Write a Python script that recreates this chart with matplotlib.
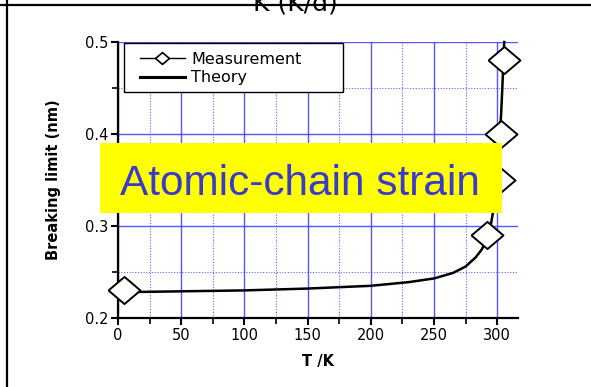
import matplotlib
matplotlib.use("Agg")
import matplotlib.pyplot as plt
from matplotlib.lines import Line2D
from matplotlib.patches import Rectangle
from matplotlib.ticker import MultipleLocator

# measured breaking limit vs temperature
meas_T = [5, 292, 301, 303, 305]
meas_L = [0.23, 0.29, 0.35, 0.40, 0.48]

# theory curve, read point by point
theory_T = [0, 50, 100, 150, 200, 230, 250, 265, 275, 283, 288, 292, 295,
            297, 299, 300.5, 301.5, 303, 304, 305.5]
theory_L = [0.228, 0.229, 0.230, 0.232, 0.235, 0.239, 0.243, 0.249, 0.256,
            0.266, 0.275, 0.288, 0.302, 0.318, 0.345, 0.370, 0.390, 0.420,
            0.450, 0.500]

xticks = [0, 50, 100, 150, 200, 250, 300]
yticks = [0.2, 0.3, 0.4, 0.5]

grid_blue = "#3a3aff"
diamond = [(-1, 0), (0, 0.85), (1, 0), (0, -0.85), (-1, 0)]

W, H = 591, 387
fig = plt.figure(figsize=(W/100, H/100), dpi=100)
ax = fig.add_axes([118/W, 1-318/H, 400/W, 276/H])

ax.plot(theory_T, theory_L, color="k", lw=1.8, zorder=3, clip_on=False)
ax.plot(meas_T, meas_L, linestyle="none", marker=diamond, ms=23,
        mfc="white", mec="k", mew=1.4, zorder=4, clip_on=False)

ax.set_xlim(0, 316.4)
ax.set_ylim(0.2, 0.5)
ax.set_xticks(xticks)
ax.set_yticks(yticks)
ax.set_yticklabels(["0.2", "0.3", "0.4", "0.5"])
ax.xaxis.set_minor_locator(MultipleLocator(25))
ax.yaxis.set_minor_locator(MultipleLocator(0.05))

ax.grid(which="major", color=grid_blue, lw=1.0, alpha=0.85)
ax.grid(which="minor", color=grid_blue, lw=0.8, linestyle=(0, (1, 1.5)), alpha=0.8)
ax.set_axisbelow(True)

for s in ["top", "right"]:
    ax.spines[s].set_visible(False)
for s in ["left", "bottom"]:
    ax.spines[s].set_linewidth(1.6)
ax.tick_params(which="major", direction="out", length=5, width=1.5, labelsize=10.5, pad=2)
ax.tick_params(which="minor", direction="out", length=4, width=1.2)

ax.set_xlabel("T /K", fontsize=10.5, fontweight="bold", labelpad=8)
ax.set_ylabel("Breaking limit (nm)", fontsize=10.5, fontweight="bold", labelpad=17)

# legend: frame drawn separately so the padding can be set freely
fig.patches.append(Rectangle((124/W, 1-92/H), 219/W, 49/H, transform=fig.transFigure,
                             facecolor="white", edgecolor="k", lw=1.0, zorder=5))
handles = [Line2D([], [], color="k", lw=1, marker=diamond, ms=10, mfc="white", mec="k", mew=1.2),
           Line2D([], [], color="k", lw=2.2)]
leg = fig.legend(handles, ["Measurement", "Theory"], loc="upper left",
                 bbox_to_anchor=(140/W, 1-52/H), borderaxespad=0, borderpad=0,
                 fontsize=11.5, handlelength=2.8, frameon=False,
                 labelspacing=0.2, handletextpad=0.4)
leg.set_zorder(5.5)

# highlighted caption box
fig.patches.append(Rectangle((100/W, 1-213/H), 402/W, 70/H,
                             transform=fig.transFigure, facecolor="#ffff00",
                             edgecolor="none", zorder=6))
fig.text(300/W, 1-195/H, "Atomic-chain strain", family="Liberation Sans",
         fontsize=30.5, color="#3a3acc", ha="center", va="baseline", zorder=7)

# page frame lines and clipped heading
fig.add_artist(Line2D([0, 1], [1-5/H, 1-5/H], transform=fig.transFigure, color="k", lw=1.6))
fig.add_artist(Line2D([7/W, 7/W], [0, 1], transform=fig.transFigure, color="k", lw=1.6))
fig.text(295/W, 1-10/H, "K (K/d)", fontsize=18, ha="center", va="baseline")

fig.savefig("out.png", dpi=100)
